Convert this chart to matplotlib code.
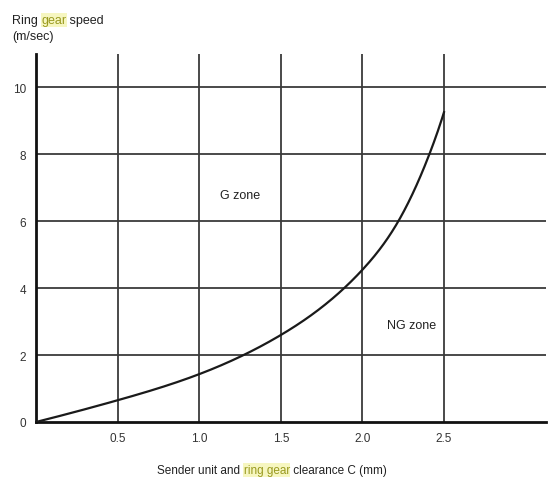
import matplotlib
matplotlib.use("Agg")
import matplotlib.pyplot as plt
import numpy as np

# Data
clearance_mm = [0.0, 0.5, 1.0, 1.5, 2.0, 2.22, 2.41, 2.5]
speed_mps = [0.0, 0.65, 1.43, 2.6, 4.55, 6.0, 8.0, 9.26]
x_ticks = [0.5, 1.0, 1.5, 2.0, 2.5]
x_tick_labels = ["0.5", "1.0", "1.5", "2.0", "2.5"]
y_ticks = [0, 2, 4, 6, 8, 10]
y_tick_labels = ["0", "2", "4", "6", "8", "10"]

plt.rcParams['font.family'] = ['Liberation Sans', 'DejaVu Sans']

fig = plt.figure(figsize=(5.48, 4.81), dpi=100)
ax = fig.add_axes([36/548, 58/481, 510/548, 368/481])
ax.set_xlim(0, 3.125)
ax.set_ylim(0, 11.0)

grid_c = '#3a3a3a'
for xv in x_ticks:
    ax.axvline(xv, color=grid_c, lw=1.3, zorder=1)
for yv in y_ticks[1:]:
    ax.axhline(yv, color=grid_c, lw=1.3, zorder=1)

# clamped cubic spline through the read points (smooth rendering of the curve)
xs = np.array(clearance_mm, float); ys = np.array(speed_mps, float)
n = len(xs)
h = np.diff(xs)
d = np.diff(ys) / h
s0 = d[0] - (d[1] - d[0]) * 0.3
sn = d[-1] + (d[-1] - d[-2]) * 0.5
A = np.zeros((n, n)); b = np.zeros(n)
A[0, 0] = 2*h[0]; A[0, 1] = h[0]; b[0] = 6*(d[0] - s0)
A[-1, -2] = h[-1]; A[-1, -1] = 2*h[-1]; b[-1] = 6*(sn - d[-1])
for i in range(1, n-1):
    A[i, i-1] = h[i-1]; A[i, i] = 2*(h[i-1]+h[i]); A[i, i+1] = h[i]
    b[i] = 6*(d[i] - d[i-1])
M = np.linalg.solve(A, b)
xf = np.linspace(xs[0], xs[-1], 400)
idx = np.clip(np.searchsorted(xs, xf) - 1, 0, n-2)
x0 = xs[idx]; x1 = xs[idx+1]; hh = h[idx]
yf = (M[idx]*(x1-xf)**3/(6*hh) + M[idx+1]*(xf-x0)**3/(6*hh)
      + (ys[idx]/hh - M[idx]*hh/6)*(x1-xf) + (ys[idx+1]/hh - M[idx+1]*hh/6)*(xf-x0))
ax.plot(xf, yf, color='#1a1a1a', lw=1.6, zorder=3)

for s in ['top', 'right']:
    ax.spines[s].set_visible(False)
for s in ['left', 'bottom']:
    ax.spines[s].set_linewidth(2.0)
    ax.spines[s].set_color('#111111')

ax.set_xticks(x_ticks)
ax.set_xticklabels(x_tick_labels, fontsize=8.5, color='#333333')
ax.set_yticks(y_ticks)
ax.set_yticklabels(y_tick_labels, fontsize=8.5, color='#333333')
ax.tick_params(length=0, pad=7)

ax.text(1.13, 6.8, "G zone", fontsize=9, color='#222222', ha='left', va='center')
ax.text(2.15, 2.9, "NG zone", fontsize=9, color='#222222', ha='left', va='center')

def multi_text(x, y, pieces, fontsize):
    fig.canvas.draw()
    r = fig.canvas.get_renderer()
    cx = x
    for s, hl in pieces:
        kw = dict(fontsize=fontsize, color='#222222', ha='left', va='baseline')
        if hl:
            kw['color'] = '#9a9a20'
            kw['bbox'] = dict(boxstyle='square,pad=0.05', fc='#f6f6c0', ec='none')
        t = fig.text(cx/548, 1 - y/481, s, **kw)
        bb = t.get_window_extent(renderer=r)
        cx += bb.width
    return cx

multi_text(12, 24, [("Ring ", False), ("gear", True), (" speed", False)], 9)
fig.text(12/548, 1 - 40/481, "(m/sec)", fontsize=9, color='#222222', ha='left', va='baseline')

fig.canvas.draw()
r = fig.canvas.get_renderer()
pieces = [("Sender unit and ", False), ("ring gear", True), (" clearance C (mm)", False)]
tmp = fig.text(0, 0, "".join(p for p, _ in pieces), fontsize=8.5)
wtot = tmp.get_window_extent(renderer=r).width
tmp.remove()
multi_text(272 - wtot/2, 474, pieces, 8.5)

fig.savefig("out.png", dpi=100)
